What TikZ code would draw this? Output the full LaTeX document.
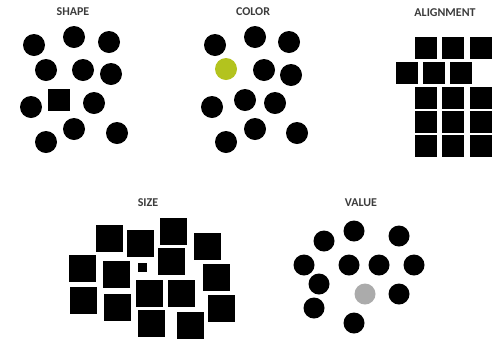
\documentclass[tikz,border=0pt]{standalone}
\usepackage{fontspec}
\setmainfont{Carlito}
\usepackage{xcolor}
\usepackage{tikz}

\definecolor{limegreen}{HTML}{B3C31E}
\definecolor{titlegray}{HTML}{3C3C3C}

\begin{document}
\begin{tikzpicture}[x=1bp, y=-1bp,
  title/.style={font=\fontsize{12}{12}\selectfont\bfseries, text=titlegray, inner sep=0},
  dot/.style={circle, fill=black, inner sep=0, minimum size=22bp},
  box/.style={rectangle, fill=black, inner sep=0, minimum size=#1},
  box/.default=22bp]
\useasboundingbox (0,0) rectangle (500,338);

% --- Panel 1: shape ---
\node[title] (shapett) at (73,12) {SHAPE};
\foreach \x/\y in {34/45, 74/37, 109/42, 46/70, 83/70, 111/74, 31/107, 94/103, 74/129, 46/142, 117/133} {
  \node[dot] at (\x,\y) {};
}
\node[box] (odd) at (59,100) {};

% --- Panel 2: color ---
\node[title] (colortt) at (253,12) {COLOR};
\foreach \x/\y in {215/45, 255/37, 289/42, 264/70, 291/75, 212/107, 245/100, 275/103, 255/129, 226/142, 297/133} {
  \node[dot] at (\x,\y) {};
}
\node[dot, fill=limegreen] (green) at (226,69) {};

% --- Panel 3: alignment ---
\node[title] (aligntt) at (445,13) {ALIGNMENT};
\foreach \y in {48, 98, 122, 146} {
  \foreach \x in {426, 453, 481} {
    \node[box] at (\x,\y) {};
  }
}
% shifted row
\foreach \x in {407, 434, 461} {
  \node[box] at (\x,73) {};
}

% --- Panel 4: size ---
\node[title] (sizett) at (148,203) {SIZE};
\foreach \x/\y in {109/238, 140/243, 173/231, 207/246, 82/268, 116/274, 171/261, 216/277, 83/300, 117/307, 149/293, 181/293, 221/308, 151/323, 190/325} {
  \node[box=27bp] at (\x,\y) {};
}
\node[box=9bp] (tiny) at (142,267) {};

% --- Panel 5: value ---
\node[title] (valuett) at (361,203) {VALUE};
\foreach \x/\y in {324/241, 354/231, 399/236, 304/265, 349/265, 379/265, 414/265, 319/284, 399/294, 314/308, 354/323} {
  \node[dot, minimum size=21bp] at (\x,\y) {};
}
\node[dot, minimum size=21bp, fill=black!33] (gray) at (365,294) {};
\end{tikzpicture}
\end{document}
